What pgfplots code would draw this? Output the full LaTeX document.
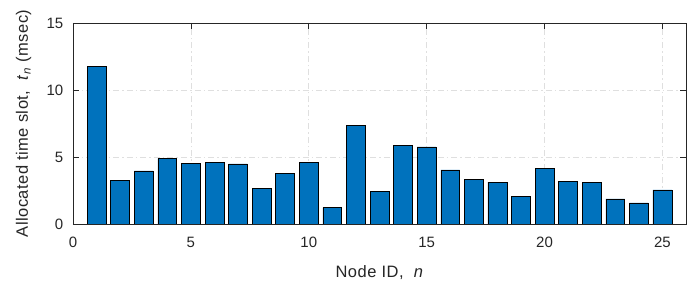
\documentclass[border=0pt]{standalone}
\usepackage{fontspec}
\setmainfont{Liberation Sans}
\usepackage{pgfplots}
\pgfplotsset{compat=1.18}
\definecolor{mbar}{RGB}{0,114,189}
\definecolor{maxis}{RGB}{38,38,38}
\newcommand{\mfont}{\fontsize{15bp}{17bp}\selectfont}
\newcommand{\lfont}{\fontsize{16.5bp}{19bp}\selectfont\addfontfeature{LetterSpace=3}}
\begin{document}
\mfont
\begin{tikzpicture}
\begin{axis}[
  scale only axis,
  width=613bp, height=201bp,
  xmin=0, xmax=26, ymin=0, ymax=15,
  xtick={0,5,10,15,20,25}, ytick={0,5,10,15},
  tick align=inside,
  major tick length=6bp,
  axis line style={maxis, line width=0.6pt},
  tick style={maxis, line width=0.6pt},
  ticklabel style={text=maxis, font=\mfont},
  xticklabel style={yshift=-8bp},
  yticklabel style={xshift=-4.5bp},
  /pgf/number format/assume math mode=true,
  grid=major,
  major grid style={gray!25, dash pattern=on 6bp off 3bp on 1.5bp off 3bp, line width=0.6pt},
  xlabel={Node ID,\ \ \textit{n}},
  ylabel={Allocated time slot,\ \ \textit{t}\textsubscript{\textit{n}} (msec)},
  label style={text=maxis, font=\lfont},
  xlabel style={yshift=-8bp},
  ylabel style={yshift=5bp},
]
\addplot[ybar, bar width=0.8, fill=mbar, draw=black, line width=0.6pt] coordinates {
(1,11.79) (2,3.26) (3,3.96) (4,4.90) (5,4.53) (6,4.58) (7,4.48) (8,2.64) (9,3.78) (10,4.60)
(11,1.22) (12,7.34) (13,2.44) (14,5.87) (15,5.75) (16,4.03) (17,3.31) (18,3.13) (19,2.07) (20,4.13)
(21,3.18) (22,3.08) (23,1.87) (24,1.57) (25,2.54)
};
\end{axis}
\useasboundingbox (current axis.south west) ++(-73bp,-56bp) rectangle ([shift={(7bp,23bp)}]current axis.north east);
\end{tikzpicture}
\end{document}
